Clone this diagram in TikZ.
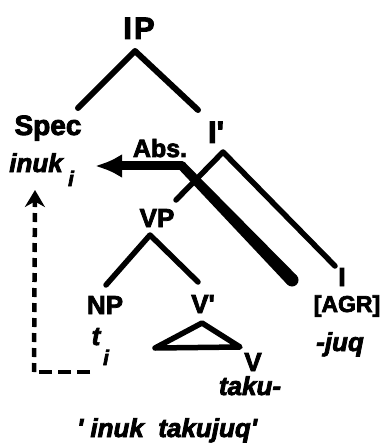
\documentclass[tikz,border=0pt]{standalone}
\usepackage{fontspec}
\setmainfont{Liberation Sans}
\newfontfamily\heavyfont{Liberation Sans}[UprightFont={* Bold}, ItalicFont={* Bold Italic}, FakeBold=3]
\usetikzlibrary{arrows.meta,calc}
\begin{document}
\begin{tikzpicture}[x=1pt,y=-1pt,
  lbl/.style={anchor=base,inner sep=0pt,font=\heavyfont\fontsize{26}{30}\selectfont},
  big/.style={anchor=base,inner sep=0pt,font=\heavyfont\fontsize{31}{36}\selectfont},
  itl/.style={anchor=base,inner sep=0pt,font=\heavyfont\fontsize{26}{30}\selectfont\itshape},
  subidx/.style={anchor=base,inner sep=0pt,font=\heavyfont\fontsize{21}{24}\selectfont\itshape},
  branch/.style={line width=5.5pt,line cap=round,line join=round},
  caseline/.style={line width=9pt,line cap=round,line join=round},
  trace/.style={line width=4.5pt}]
\useasboundingbox (0,0) rectangle (383,446);

% labels
\node[big] (ip) at (139,39) {I\kern2pt P};
\node[lbl,font=\heavyfont\fontsize{28}{32}\selectfont] (spec) at (48,135) {Spec};
\node[itl] (inuk) at (36,172) {inuk};
\node[subidx] (inuki) at (71,186) {i};
\node[big] (ibar) at (216,143) {I\textquotesingle};
\node[lbl,font=\heavyfont\fontsize{25}{28}\selectfont] (abs) at (160,157) {Abs.};
\node[lbl] (vp) at (157,227) {VP};
\node[lbl] (np) at (105,314) {NP};
\node[itl] (t) at (96,345) {t};
\node[subidx] (ti) at (106,365) {i};
\node[lbl] (vbar) at (203,313) {V\textquotesingle};
\node[lbl] (v) at (253,371) {V};
\node[itl] (taku) at (250,395) {taku-};
\node[lbl] (infl) at (342,286) {I};
\node[lbl,font=\heavyfont\fontsize{23}{27}\selectfont] (agr) at (347,312) {[AGR]};
\node[itl] (juq) at (340,351) {-juq};
\node[itl] (gloss) at (167,437) {\textquotesingle\ inuk\ \ takujuq\textquotesingle};

% branch points
\coordinate (ipTop) at (135,51);
\coordinate (ipL) at (78,108);
\coordinate (ipR) at (198,110);
\coordinate (ibTop) at (223,152);
\coordinate (ibL) at (176,200);
\coordinate (ibR) at (335,266);
\coordinate (vpTop) at (150,235);
\coordinate (vpL) at (106,285);
\coordinate (vpR) at (198,282);
\coordinate (triTop) at (202,323);
\coordinate (triL) at (155,348);
\coordinate (triR) at (240,347);
\coordinate (absTip) at (95,166);
\coordinate (absBend) at (182,166);
\coordinate (absEnd) at (292,280);
\coordinate (dashTop) at (35,190);
\coordinate (dashCorner) at (34,372);
\coordinate (dashEnd) at (90,372);

% tree
\draw[branch,line width=6pt] (ipL) -- (ipTop) -- (ipR);
\draw[branch] (ibL) -- (ibTop) -- (ibR);
\draw[branch] (vpL) -- (vpTop) -- (vpR);
\draw[branch] (triTop) -- (triL) -- (triR) -- cycle;

% absolutive case assignment: a stroke that swells towards its lower end
\fill ($(absBend)!4.5pt!90:(absEnd)$) -- ($(absEnd)!6.5pt!-90:(absBend)$)
   -- ($(absEnd)!6.5pt!90:(absBend)$) -- ($(absBend)!4.5pt!-90:(absEnd)$) -- cycle;
\fill (absEnd) circle[radius=6.5pt];
\fill (absBend) circle[radius=4.5pt];
\draw[caseline,-{Latex[length=27pt,width=24pt]}] (absBend) -- (absTip);

% movement trace
\draw[trace,dash pattern=on 13pt off 6pt] (dashEnd) -- (dashCorner);
\draw[trace,dash pattern=on 9pt off 6pt,-{Stealth[length=17pt,width=20pt]}] (dashCorner) -- (dashTop);
\end{tikzpicture}
\end{document}
